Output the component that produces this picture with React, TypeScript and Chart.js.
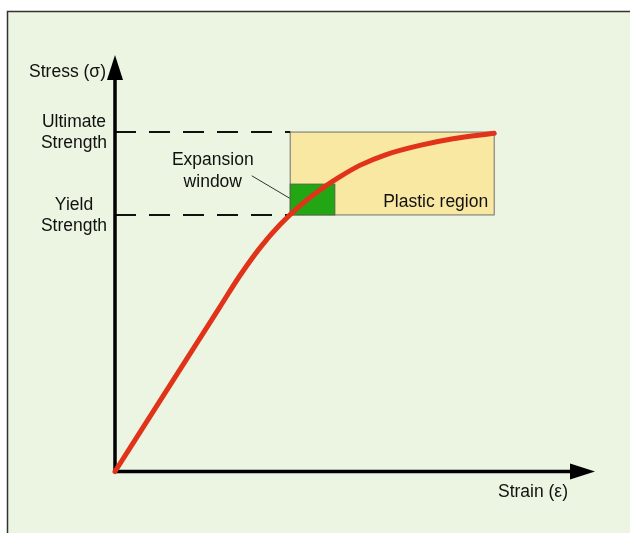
import { useEffect, useRef } from 'react';
import { Chart, registerables } from 'chart.js';

Chart.register(...registerables);

// ---- data (abstract units, 0..100 on both axes) ----
const strain = [0, 10.0, 21.9, 26.0, 30.2, 34.4, 38.5, 42.7, 46.9, 51.0, 56.5, 63.5, 70.4, 79.0];
const stress = [0, 18.1, 39.6, 47.0, 53.7, 59.3, 63.8, 67.6, 70.8, 73.5, 76.1, 78.3, 79.9, 81.2];

const yieldStrength = 61.6;
const ultimateStrength = 81.5;

const plasticStrainRange = [36.5, 79.0];
const windowStrainRange = [36.5, 45.8];
const windowStressRange = [61.6, 69.0];
const leaderFrom = [28.5, 71.0];
const leaderTo = [36.4, 65.6];

const ultimateLabel = ['Ultimate', 'Strength'];
const yieldLabel = ['Yield', 'Strength'];
const windowLabel = ['Expansion', 'window'];
const plasticLabel = 'Plastic region';
const xTitle = 'Strain (ε)';
const yTitle = 'Stress (σ)';

// ---- styles ----
const BG = '#ebf5e1';
const RED = '#e1321a';
const YELLOW = '#f9e8a2';
const GREEN = '#22a614';
const FONT = '17.5px "Liberation Sans", Arial, sans-serif';

const bgPlugin = {
  id: 'bg',
  beforeDraw(chart: any) {
    const { ctx, width, height } = chart;
    ctx.save();
    ctx.fillStyle = '#ffffff';
    ctx.fillRect(0, 0, width, height);
    ctx.fillStyle = BG;
    ctx.fillRect(7, 11, width - 7, height - 11);
    ctx.strokeStyle = '#333333';
    ctx.lineWidth = 1.5;
    ctx.beginPath();
    ctx.moveTo(7.5, height);
    ctx.lineTo(7.5, 11.5);
    ctx.lineTo(width, 11.5);
    ctx.stroke();
    ctx.restore();
  },
};

const diagramPlugin = {
  id: 'diagram',
  beforeDatasetsDraw(chart: any) {
    const { ctx } = chart;
    const xs = chart.scales.x;
    const ys = chart.scales.y;
    const px = (v: number) => xs.getPixelForValue(v);
    const py = (v: number) => ys.getPixelForValue(v);
    const x0 = px(0);
    const y0 = py(0);
    const xEnd = px(100);
    const yEnd = py(100);

    ctx.save();
    // plastic region
    const rx0 = px(plasticStrainRange[0]);
    const rx1 = px(plasticStrainRange[1]);
    const ry0 = py(ultimateStrength);
    const ry1 = py(yieldStrength);
    ctx.fillStyle = YELLOW;
    ctx.fillRect(rx0, ry0, rx1 - rx0, ry1 - ry0);
    ctx.strokeStyle = '#6f6f6f';
    ctx.lineWidth = 1;
    ctx.strokeRect(rx0, ry0, rx1 - rx0, ry1 - ry0);

    // expansion window
    const gx0 = px(windowStrainRange[0]);
    const gx1 = px(windowStrainRange[1]);
    const gy0 = py(windowStressRange[1]);
    const gy1 = py(windowStressRange[0]);
    ctx.fillStyle = GREEN;
    ctx.fillRect(gx0, gy0, gx1 - gx0, gy1 - gy0);
    ctx.strokeStyle = '#4a6a3a';
    ctx.strokeRect(gx0, gy0, gx1 - gx0, gy1 - gy0);

    // dashed reference lines
    ctx.strokeStyle = '#111111';
    ctx.lineWidth = 2;
    ctx.setLineDash([21, 13]);
    [ultimateStrength, yieldStrength].forEach((v) => {
      ctx.beginPath();
      ctx.moveTo(x0, py(v));
      ctx.lineTo(rx0, py(v));
      ctx.stroke();
    });
    ctx.setLineDash([]);

    // leader line
    ctx.strokeStyle = '#333333';
    ctx.lineWidth = 1;
    ctx.beginPath();
    ctx.moveTo(px(leaderFrom[0]), py(leaderFrom[1]));
    ctx.lineTo(px(leaderTo[0]), py(leaderTo[1]));
    ctx.stroke();

    // axes with arrows
    ctx.strokeStyle = '#000000';
    ctx.fillStyle = '#000000';
    ctx.lineWidth = 3.5;
    const aLen = 25;
    const aHalf = 8;
    ctx.beginPath();
    ctx.moveTo(x0, y0 + 1.5);
    ctx.lineTo(x0, yEnd + aLen - 2);
    ctx.moveTo(x0 - 1.5, y0);
    ctx.lineTo(xEnd - aLen + 2, y0);
    ctx.stroke();
    ctx.beginPath();
    ctx.moveTo(x0, yEnd);
    ctx.lineTo(x0 - aHalf, yEnd + aLen);
    ctx.lineTo(x0 + aHalf, yEnd + aLen);
    ctx.closePath();
    ctx.fill();
    ctx.beginPath();
    ctx.moveTo(xEnd, y0);
    ctx.lineTo(xEnd - aLen, y0 - aHalf);
    ctx.lineTo(xEnd - aLen, y0 + aHalf);
    ctx.closePath();
    ctx.fill();

    // texts
    ctx.font = FONT;
    ctx.fillStyle = '#111111';
    ctx.textBaseline = 'alphabetic';

    ctx.textAlign = 'right';
    ctx.fillText(yTitle, x0 - 9, yEnd + 21.5);
    ctx.fillText(xTitle, xEnd - 27, y0 + 25.5);
    ctx.fillText(plasticLabel, rx1 - 6, ry1 - 8);

    ctx.textAlign = 'center';
    const lx = x0 - 41;
    ctx.fillText(ultimateLabel[0], lx, py(ultimateStrength) - 5);
    ctx.fillText(ultimateLabel[1], lx, py(ultimateStrength) + 16);
    ctx.fillText(yieldLabel[0], lx, py(yieldStrength) - 5);
    ctx.fillText(yieldLabel[1], lx, py(yieldStrength) + 16);

    const wx = px(leaderFrom[0]) - 39;
    const wy = py(leaderFrom[1]);
    ctx.fillText(windowLabel[0], wx, wy - 11);
    ctx.fillText(windowLabel[1], wx, wy + 11);
    ctx.restore();
  },
};

export default function App() {
  const ref = useRef<HTMLCanvasElement>(null);
  useEffect(() => {
    if (!ref.current) return;
    const chart = new Chart(ref.current, {
      type: 'line',
      data: {
        datasets: [
          {
            data: strain.map((x, i) => ({ x, y: stress[i] })),
            borderColor: RED,
            borderWidth: 5,
            pointRadius: 0,
            cubicInterpolationMode: 'monotone',
            borderCapStyle: 'round',
            fill: false,
            clip: false,
          } as any,
        ],
      },
      options: {
        responsive: false,
        animation: false,
        layout: { padding: { left: 115, top: 55, right: 35, bottom: 61.5 } },
        scales: {
          x: { type: 'linear', display: false, min: 0, max: 100 },
          y: { type: 'linear', display: false, min: 0, max: 100 },
        },
        plugins: { legend: { display: false }, tooltip: { enabled: false } },
      },
      plugins: [bgPlugin, diagramPlugin],
    });
    return () => chart.destroy();
  }, []);
  return (
    <div style={{ position: 'absolute', left: 0, top: 0, width: 630, height: 533 }}>
      <canvas ref={ref} width={630} height={533} style={{ display: 'block' }} />
    </div>
  );
}
